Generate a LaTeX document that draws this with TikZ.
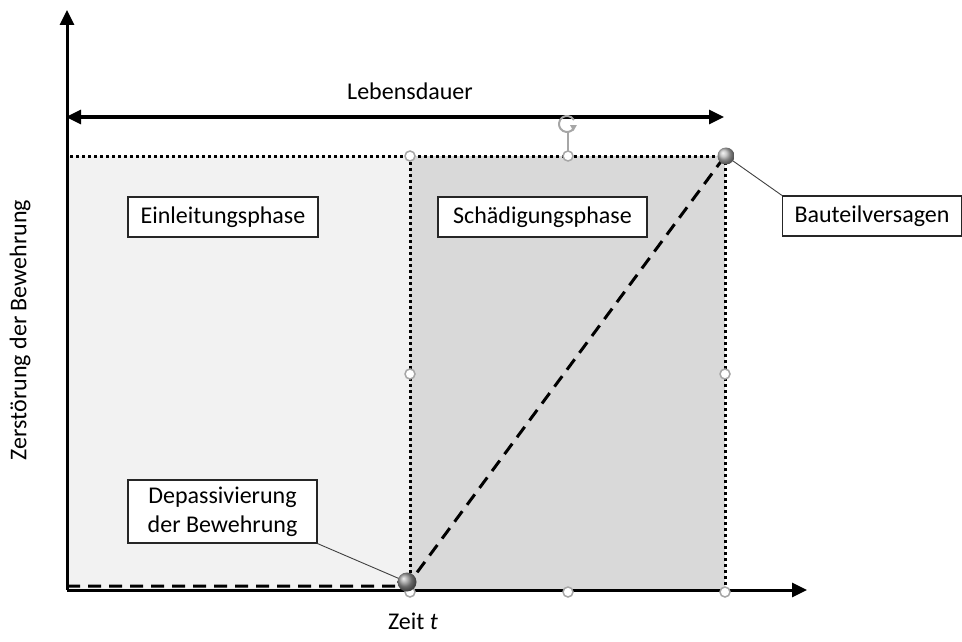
\documentclass[tikz,border=0pt]{standalone}
\usepackage{fontspec}
\setmainfont{Carlito}
\usetikzlibrary{arrows.meta,shadings}
\definecolor{lightfill}{HTML}{F2F2F2}
\definecolor{darkfill}{HTML}{D9D9D9}
\definecolor{handlecol}{HTML}{A6A6A6}
\begin{document}
\begin{tikzpicture}[x=1pt,y=-1pt,
  font=\fontsize{24}{29}\selectfont,
  axis/.style={line width=3pt,-{Triangle[length=15pt,width=14pt]}},
  lifearrow/.style={line width=3pt,{Triangle[length=15pt,width=14pt]}-{Triangle[length=15pt,width=14pt]}},
  dotline/.style={line width=3pt,dash pattern=on 3pt off 3pt},
  dashline/.style={line width=3pt,dash pattern=on 13pt off 8pt},
  labelbox/.style={draw=black!85,fill=white,line width=1.2pt,inner sep=0pt,minimum height=40pt,align=center},
  selhandle/.style={circle,draw=handlecol,fill=white,line width=1.5pt,minimum size=10pt,inner sep=0pt},
  callout/.style={draw=black!75,line width=0.9pt},
  sphere/.style={circle,inner sep=0pt,shading=ball}]
\useasboundingbox (0,0) rectangle (962,642);
% coordinates
\coordinate (O) at (67,590);
\coordinate (ytip) at (67,10);
\coordinate (xtip) at (807,590);
\coordinate (lL) at (66,117);
\coordinate (lR) at (724,117);
\coordinate (tl) at (70,156);
\coordinate (tm) at (410,156);
\coordinate (tr) at (725,156);
\coordinate (bm) at (410,590);
\coordinate (br) at (725,590);
\coordinate (d0) at (67,586);
\coordinate (d1) at (407,586);
% regions
\fill[lightfill] (67,156) rectangle (410,590);
\fill[darkfill] (410,156) rectangle (725,590);
% dotted boundaries
\draw[dotline] (tl) -- (tr);
\draw[dotline] (tm) -- (bm);
\draw[dotline] (tr) -- (br);
% dashed curve
\draw[dashline] (d0) -- (d1) -- (tr);
% axes
\draw[axis] (O) -- (ytip);
\draw[axis] (O) -- (xtip);
\draw[lifearrow] (lL) -- (lR);
% labels
\node (life) at (410,91) {Lebensdauer};
\node (zeit) at (413,621) {Zeit \textit{t}};
\node[rotate=90] (ylab) at (20,330) {Zerstörung der Bewehrung};
\node[labelbox,minimum width=190pt] (einl) at (223,217) {Einleitungsphase};
\node[labelbox,minimum width=209pt] (schad) at (542.5,217) {Schädigungsphase};
\node[labelbox,minimum width=179pt] (baut) at (872,216) {Bauteilversagen};
\node[labelbox,minimum width=189pt,minimum height=63pt] (depa) at (222.5,511.5) {Depassivierung\\der Bewehrung};
% rotation handle
\coordinate (rot) at (567,124);
\draw[handlecol,line width=1.2pt] (568,132) -- (568,151);
\draw[handlecol,line width=2pt] (rot) ++(-30:8pt) arc(-30:-330:8pt);
\fill[handlecol] (rot) ++(-30:8pt) ++(3pt,3pt) -- ++(-7pt,0pt) -- ++(3.5pt,-6pt) -- cycle;
% selection handles
\node[selhandle] (h1) at (410,156) {};
\node[selhandle] (h2) at (568,156) {};
\node[selhandle] (h3) at (410,374) {};
\node[selhandle] (h4) at (725,374) {};
\node[selhandle] (h5) at (410,592) {};
\node[selhandle] (h6) at (568,592) {};
\node[selhandle] (h7) at (725,592) {};
% spheres and callouts
\draw[callout] (depa.south east) -- (407,582);
\draw[callout] (baut.north west) -- (726,156);
\node[sphere,minimum size=19pt,ball color=black!42] (s1) at (407,582) {};
\node[sphere,minimum size=17pt,ball color=black!28] (s2) at (726,156) {};
\end{tikzpicture}
\end{document}
